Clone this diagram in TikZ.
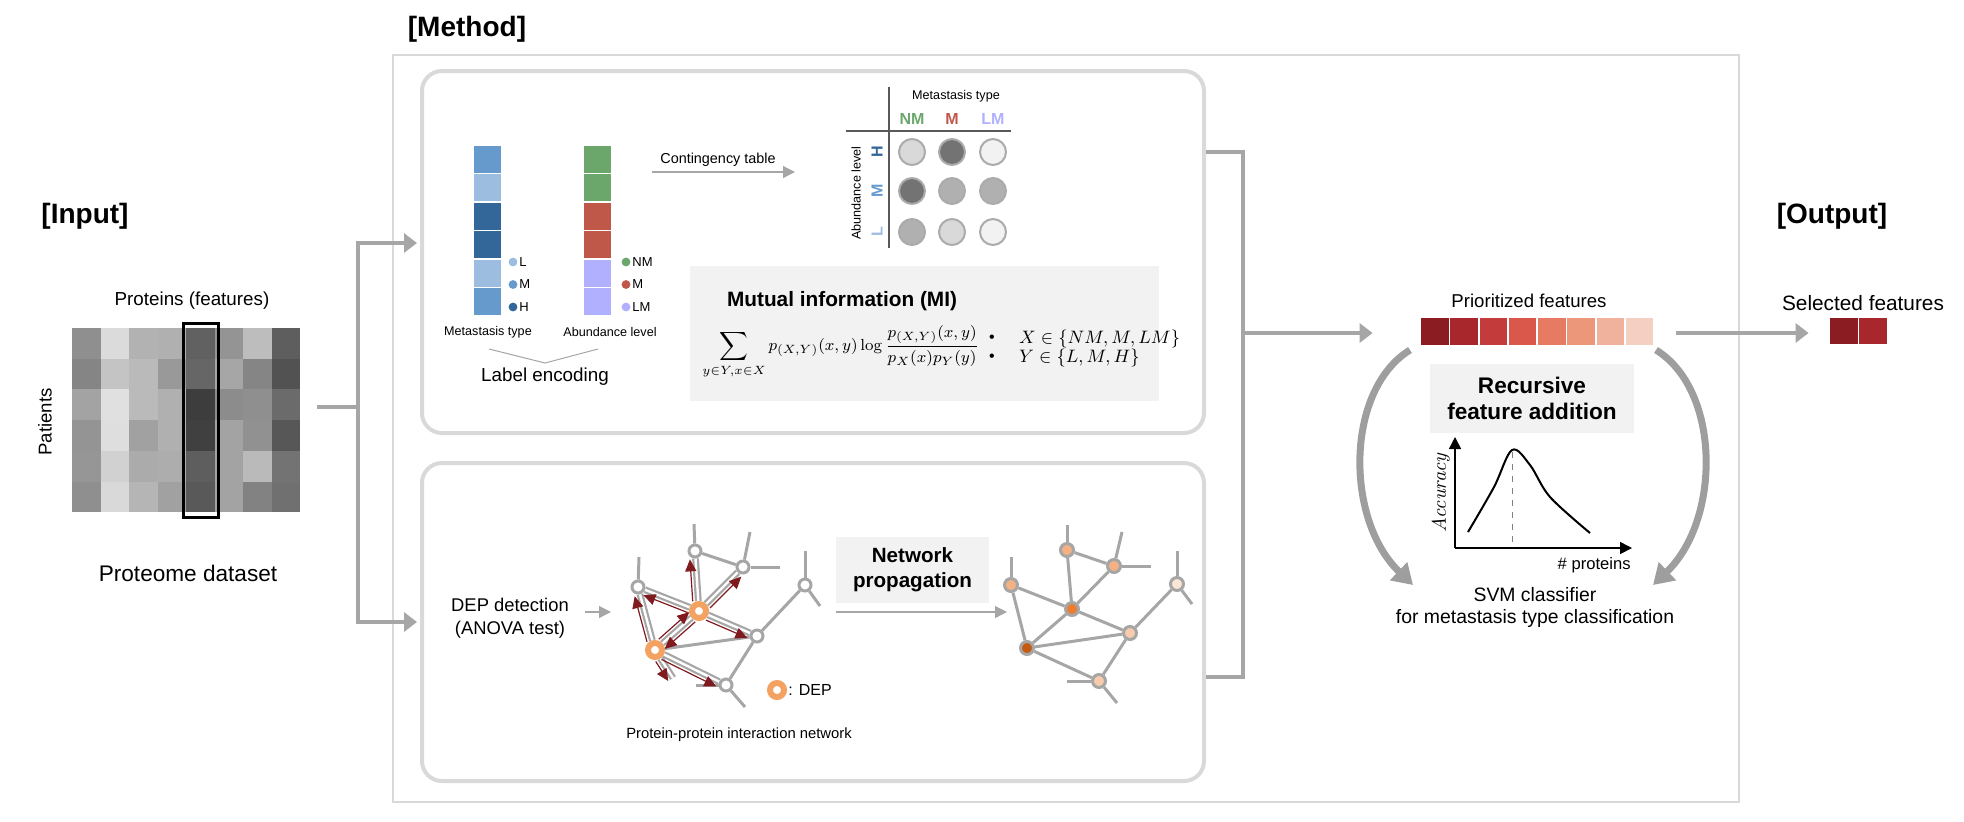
\documentclass[tikz,border=0pt]{standalone}
\usepackage[no-math]{fontspec}
\setmainfont{Liberation Sans}
\usetikzlibrary{arrows.meta,calc,backgrounds}

% colours
\definecolor{framegray}{HTML}{D9D9D9}
\definecolor{linkgray}{HTML}{A6A6A6}
\definecolor{arcgray}{HTML}{9E9E9E}
\definecolor{boxfill}{HTML}{F2F2F2}
\definecolor{tablegray}{HTML}{595959}
\definecolor{hblue}{HTML}{336699}
\definecolor{mblue}{HTML}{6699CC}
\definecolor{lblue}{HTML}{9DBDE0}
\definecolor{nmgreen}{HTML}{6BA76B}
\definecolor{mred}{HTML}{C0584A}
\definecolor{lmlav}{HTML}{B0B0FF}
\definecolor{cborder}{HTML}{ABABAB}
\definecolor{cdark}{HTML}{737373}
\definecolor{cmid}{HTML}{B0B0B0}
\definecolor{clight}{HTML}{D9D9D9}
\definecolor{cpale}{HTML}{F2F2F2}
\definecolor{deporange}{HTML}{F4A261}
\definecolor{arrred}{HTML}{7F1A1E}
\definecolor{propA}{HTML}{F4B183}
\definecolor{propB}{HTML}{ED7D31}
\definecolor{propC}{HTML}{C55A11}
\definecolor{propD}{HTML}{F8CBAD}
\definecolor{propE}{HTML}{FBE5D6}
\definecolor{prA}{HTML}{8B1C22}
\definecolor{prB}{HTML}{A8272D}
\definecolor{prC}{HTML}{C33B3B}
\definecolor{prD}{HTML}{D9574B}
\definecolor{prE}{HTML}{E67A62}
\definecolor{prF}{HTML}{EC967A}
\definecolor{prG}{HTML}{F0B29C}
\definecolor{prH}{HTML}{F5CFC1}

\newcommand{\fsz}[2]{\fontsize{#1}{#2}\selectfont}
% red arrow running beside an edge, from a DEP to its neighbour
\newcommand{\deparrow}[4]{\draw[deparr] ($(#1)!2.8pt!#3:(#2)$) -- ($(#2)!2.8pt!#4:(#1)$);}

\begin{document}
\begin{tikzpicture}[x=0.5pt,y=-0.5pt,
    link/.style={draw=linkgray,line width=2pt},
    linkarrow/.style={link,-{Triangle[length=6.5pt,width=9.5pt]}},
    thinarrow/.style={draw=linkgray,line width=0.6pt,-{Triangle[length=6pt,width=6pt]}},
    roundbox/.style={draw=framegray,line width=2pt,rounded corners=10pt,inner sep=0pt},
    greybox/.style={fill=boxfill,inner sep=0pt,align=center},
    prot/.style={circle,draw=linkgray,line width=1.5pt,fill=white,minimum size=6pt,inner sep=0pt},
    dep/.style={circle,draw=deporange,line width=3pt,fill=white,minimum size=7pt,inner sep=0pt},
    prop/.style={circle,draw=linkgray,line width=1.5pt,minimum size=6.5pt,inner sep=0pt},
    ppi/.style={draw=linkgray,line width=1.5pt},
    ppidouble/.style={draw=linkgray,double=white,line width=1.1pt,double distance=1.2pt},
    deparr/.style={draw=arrred,line width=0.6pt,shorten <=5pt,shorten >=4pt,
      -{Triangle[length=6pt,width=5.5pt]}},
    cell/.style={circle,draw=cborder,line width=1pt,minimum size=13pt,inner sep=0pt},
    tline/.style={draw=tablegray,line width=0.6pt},
    bigarc/.style={draw=arcgray,line width=3.5pt,-{Triangle[length=10pt,width=12pt]}},
    axisarrow/.style={line width=0.8pt,-{Triangle[length=6pt,width=6pt]}},
    title/.style={font=\fsz{14}{16}\bfseries}]
\useasboundingbox (0,0) rectangle (1964,821);

% Section titles
\node[title] (input) at (85,216) {[Input]};
\node[title] (method) at (467,29) {[Method]};
\node[title] (output) at (1832,216) {[Output]};

% Method frame and the two rounded boxes
\draw[framegray,line width=1pt] (393,55) rectangle (1739,802);
\node[roundbox,minimum width=391pt,minimum height=181pt] (mibox) at (813,252) {};
\node[roundbox,minimum width=391pt,minimum height=159pt] (netbox) at (813,622) {};

% Input: proteome heatmap
\foreach \row [count=\j from 0] in {{44,14,30,31,62,42,26,63},{48,23,27,40,60,35,48,68},
    {36,12,27,31,76,45,44,58},{42,13,37,31,75,36,43,66},{41,18,33,32,63,36,27,55},
    {44,15,29,37,65,36,49,56}}
  \foreach \v [count=\i from 0] in \row
    \fill[black!\v] ({72+\i*28.5},{328+\j*30.7}) rectangle ++(28.6,30.8);
\draw[line width=1.5pt] (183,323) rectangle (218,517);
\node[font=\fsz{9.4}{11}] (proteins) at (192,301) {Proteins (features)};
\node[font=\fsz{9.3}{11},rotate=90] (patients) at (45,422) {Patients};
\node[font=\fsz{11.3}{13}] (dataset) at (188,573) {Proteome dataset};

% Input -> method connectors
\coordinate (hout) at (317,407);
\coordinate (lsplit) at (358,407);
\draw[link] (hout) -- (lsplit);
\draw[linkarrow,shorten >=1.5pt] (lsplit) |- (mibox.west |- 0,243);
\draw[linkarrow,shorten >=1.5pt] (lsplit) |- (netbox.west |- 0,622);

% Label encoding bars
\foreach \c [count=\i from 0] in {mblue,lblue,hblue,hblue,lblue,mblue}
  \filldraw[fill=\c,draw=white,line width=0.8pt] (473,{145+\i*28.5}) rectangle ++(29,28.5);
\foreach \c [count=\i from 0] in {nmgreen,nmgreen,mred,mred,lmlav,lmlav}
  \filldraw[fill=\c,draw=white,line width=0.8pt] (583,{145+\i*28.5}) rectangle ++(29,28.5);
\foreach \c/\t [count=\i from 0] in {lblue/L,mblue/M,hblue/H} {
  \fill[\c] (513,{262+\i*22.5}) circle (2.2pt);
  \node[anchor=west,font=\fsz{6.5}{8},inner sep=1pt] at (517,{262+\i*22.5}) {\t};
}
\foreach \c/\t [count=\i from 0] in {nmgreen/NM,mred/M,lmlav/LM} {
  \fill[\c] (626,{262+\i*22.5}) circle (2.2pt);
  \node[anchor=west,font=\fsz{6.5}{8},inner sep=1pt] at (630,{262+\i*22.5}) {\t};
}
\node[font=\fsz{6.3}{8}] (mtype) at (488,332) {Metastasis type};
\node[font=\fsz{6.3}{8}] (alevel) at (610,332) {Abundance level};
\draw[linkgray,line width=0.5pt] (489,349) -- (545,363) -- (598,349);
\node[font=\fsz{9.4}{11}] (labelenc) at (545,377) {Label encoding};

% Contingency table
\coordinate (ctA) at (652,172);
\coordinate (ctB) at (795,172);
\draw[thinarrow] (ctA) -- (ctB);
\node[font=\fsz{7.2}{9}] (ctlabel) at (718,160) {Contingency table};
\draw[tline] (889,87) -- (889,248);
\draw[tline] (846,131) -- (1011,131);
\node[font=\fsz{6.3}{8}] (ctmtype) at (956,96) {Metastasis type};
\node[font=\fsz{8}{10}\bfseries,text=nmgreen] (hNM) at (912,119) {NM};
\node[font=\fsz{8}{10}\bfseries,text=mred] (hM) at (952,119) {M};
\node[font=\fsz{8}{10}\bfseries,text=lmlav] (hLM) at (993,119) {LM};
\node[font=\fsz{6.3}{8},rotate=90] (ctalevel) at (856,193) {Abundance level};
\node[font=\fsz{8}{10}\bfseries,text=hblue,rotate=90] (rH) at (877,152) {H};
\node[font=\fsz{8}{10}\bfseries,text=mblue,rotate=90] (rM) at (877,191) {M};
\node[font=\fsz{8}{10}\bfseries,text=lblue,rotate=90] (rL) at (877,232) {L};
\node[cell,fill=clight] (cHNM) at (912,152) {};
\node[cell,fill=cdark] (cHM) at (952,152) {};
\node[cell,fill=cpale] (cHLM) at (993,152) {};
\node[cell,fill=cdark] (cMNM) at (912,191) {};
\node[cell,fill=cmid] (cMM) at (952,191) {};
\node[cell,fill=cmid] (cMLM) at (993,191) {};
\node[cell,fill=cmid] (cLNM) at (912,232) {};
\node[cell,fill=clight] (cLM) at (952,232) {};
\node[cell,fill=cpale] (cLLM) at (993,232) {};

% Mutual information box
\node[greybox,minimum width=234.5pt,minimum height=67.5pt] (mi) at (924.5,333.5) {};
\node[anchor=west,font=\fsz{10.4}{12}\bfseries] (mititle) at (720,301) {Mutual information (MI)};
\node[anchor=west,font=\fsz{8.3}{10},inner sep=0pt] (mieq) at (702,352)
  {$\displaystyle\sum_{y\in Y,x\in X} p_{(X,Y)}(x,y)\log\frac{p_{(X,Y)}(x,y)}{p_X(x)p_Y(y)}$};
\node[font=\fsz{8}{10}] (bulA) at (992,339) {\textbullet};
\node[font=\fsz{8}{10}] (bulB) at (992,358) {\textbullet};
\node[anchor=west,font=\fsz{8.7}{11}] (setX) at (1012,339) {$X\in\{NM,M,LM\}$};
\node[anchor=west,font=\fsz{8.7}{11}] (setY) at (1012,358) {$Y\in\{L,M,H\}$};

% DEP detection
\node[align=center,font=\fsz{9.2}{11.5}] (depdet) at (510,618) {DEP detection\\(ANOVA test)};
\coordinate (dpA) at (585,612);
\coordinate (dpB) at (611,612);
\draw[thinarrow] (dpA) -- (dpB);

% PPI network with DEPs
\node[prot] (n1) at (638,587) {};
\node[prot] (n2) at (695,551) {};
\node[prot] (n3) at (743,567) {};
\node[dep] (n4) at (699,611) {};
\node[dep] (n5) at (655,650) {};
\node[prot] (n6) at (757,636) {};
\node[prot] (n7) at (726,685) {};
\node[prot] (n8) at (805,585) {};
\coordinate (s1) at (639,557);
\coordinate (s2) at (694,524);
\coordinate (s3a) at (750,532);
\coordinate (s3b) at (780,567);
\coordinate (s5) at (673,678);
\coordinate (s7a) at (696,685);
\coordinate (s7b) at (745,707);
\coordinate (s8a) at (805,551);
\coordinate (s8b) at (820,606);
\begin{scope}[on background layer]
  \foreach \a/\b in {n2/n3,n5/n6,n6/n7,n6/n8,n1/s1,n2/s2,n3/s3a,n3/s3b,n7/s7a,n7/s7b,n8/s8a,n8/s8b}
    \draw[ppi] (\a) -- (\b);
  \foreach \a/\b in {n4/n1,n4/n2,n4/n3,n4/n6,n4/n5,n5/n1,n5/n7,n5/s5}
    \draw[ppidouble] (\a) -- (\b);
\end{scope}
\deparrow{n4}{n1}{90}{-90}
\deparrow{n4}{n2}{90}{-90}
\deparrow{n4}{n3}{-90}{90}
\deparrow{n4}{n6}{-90}{90}
\deparrow{n4}{n5}{90}{-90}
\deparrow{n5}{n1}{90}{-90}
\deparrow{n5}{n4}{90}{-90}
\deparrow{n5}{n7}{-90}{90}
\draw[deparr,shorten >=0pt] ($(n5)!2.8pt!-90:(s5)$) -- ($(s5)!2.8pt!90:(n5)$);
\node[dep] (deplegend) at (777,690) {};
\node[anchor=west,font=\fsz{8}{10},inner sep=1pt] (deptext) at (786,690) {: DEP};
\node[font=\fsz{7.4}{9}] (ppilabel) at (739,735) {Protein-protein interaction network};

% Network propagation
\node[greybox,minimum width=76.5pt,minimum height=33pt,font=\fsz{10.3}{12.5}\bfseries] (np) at (912.5,570) {Network\\propagation};
\coordinate (npA) at (836,612);
\coordinate (npB) at (1007,612);
\draw[thinarrow] (npA) -- (npB);
\node[prop,fill=propA] (m1) at (1011,585) {};
\node[prop,fill=propA] (m2) at (1067,550) {};
\node[prop,fill=propA] (m3) at (1114,566) {};
\node[prop,fill=propB] (m4) at (1072,609) {};
\node[prop,fill=propC] (m5) at (1027,648) {};
\node[prop,fill=propD] (m6) at (1130,633) {};
\node[prop,fill=propD] (m7) at (1099,681) {};
\node[prop,fill=propE] (m8) at (1177,584) {};
\coordinate (u1) at (1011,557);
\coordinate (u2) at (1067,525);
\coordinate (u3a) at (1122,532);
\coordinate (u3b) at (1151,566);
\coordinate (u7a) at (1067,681);
\coordinate (u7b) at (1117,703);
\coordinate (u8a) at (1177,551);
\coordinate (u8b) at (1192,604);
\begin{scope}[on background layer]
  \foreach \a/\b in {m1/m4,m1/m5,m2/m4,m3/m4,m2/m3,m4/m5,m4/m6,m5/m6,m5/m7,m6/m7,m6/m8,
      m1/u1,m2/u2,m3/u3a,m3/u3b,m7/u7a,m7/u7b,m8/u8a,m8/u8b}
    \draw[ppi] (\a) -- (\b);
\end{scope}

% Method -> prioritized features
\coordinate (rtop) at (1243,152);
\coordinate (rmid) at (1243,333);
\coordinate (rbot) at (1243,677);
\draw[link] (mibox.east |- rtop) -- (rtop) -- (rbot) -- (netbox.east |- rbot);

% Prioritized and selected features
\node[inner sep=0pt,minimum width=117pt,minimum height=13.5pt] (prio) at (1538,331.5) {};
\foreach \c [count=\i from 0] in {prA,prB,prC,prD,prE,prF,prG,prH}
  \fill[\c] ({1421+\i*29.25},318) rectangle ++(27.6,27);
\node[font=\fsz{9.3}{11}] (priolabel) at (1529,301) {Prioritized features};
\draw[linkarrow,shorten >=24pt] (rmid) -- (rmid -| prio.west);
\node[inner sep=0pt,minimum width=28.5pt,minimum height=13pt] (sel) at (1858.5,331) {};
\fill[prA] (1830,318) rectangle ++(27.6,26);
\fill[prB] (1859,318) rectangle ++(27.6,26);
\node[font=\fsz{10.4}{12}] (sellabel) at (1863,303) {Selected features};
\draw[linkarrow] ([xshift=10.5pt]prio.east |- 0,333) -- ([xshift=-10.5pt]sel.west |- 0,333);

% Recursive feature addition
\node[greybox,minimum width=102pt,minimum height=34.5pt,font=\fsz{11.3}{13}\bfseries] (rfa) at (1532,398.5) {Recursive\\feature addition};
\coordinate (origin) at (1455,548);
\draw[axisarrow] (origin) -- ++(0,-111);
\draw[axisarrow] (origin) -- ++(177,0);
\draw[gray,dashed,line width=0.4pt] (1512,452) -- (1512,548);
\draw[line width=1pt] plot[smooth,tension=0.55] coordinates
  {(1468,532) (1494,487) (1512,450) (1530,465) (1550,497) (1590,533)};
\node[font=\fsz{9.8}{11},rotate=90] (acc) at (1441,492) {$\mathit{Accuracy}$};
\node[anchor=east,font=\fsz{8.3}{10},inner sep=0pt] (nprot) at (1631,565) {\# proteins};
\node[align=center,font=\fsz{9.7}{11}] (svm) at (1535,607) {SVM classifier\\for metastasis type classification};
\draw[bigarc] (1410,350) .. controls (1345,390) and (1345,520) .. (1413,585);
\draw[bigarc] (1656,350) .. controls (1721,390) and (1721,520) .. (1653,585);
\end{tikzpicture}
\end{document}
